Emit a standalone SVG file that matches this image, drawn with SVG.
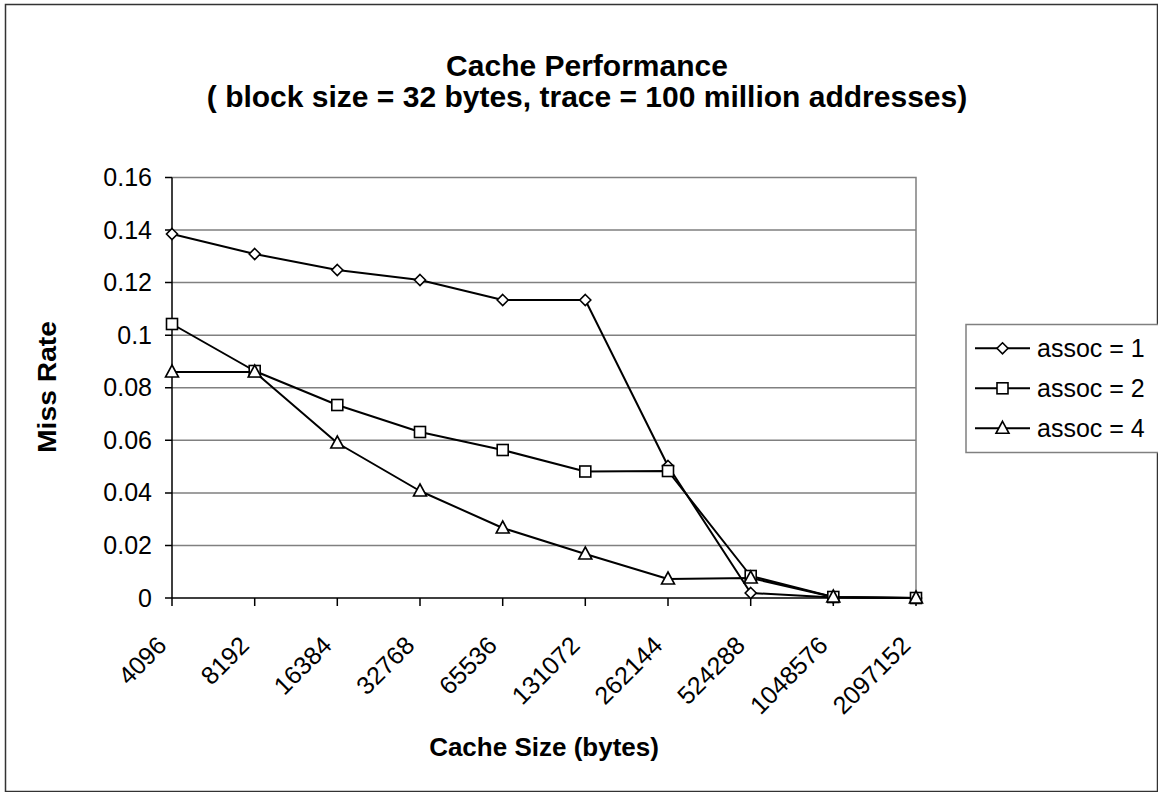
<svg xmlns="http://www.w3.org/2000/svg" width="1158" height="792" viewBox="0 0 1158 792">
<style>
.t{font-family:"Liberation Sans",Arial,sans-serif;fill:#000}
.title{font-size:30px;font-weight:bold;text-anchor:middle}
.axt{font-size:26px;font-weight:bold;text-anchor:middle}
.yl{font-size:25px;text-anchor:end}
.xl{font-size:25px;text-anchor:end}
.lg{font-size:25px}
.grid{stroke:#808080;stroke-width:1.5;fill:none}
.axis{stroke:#000;stroke-width:1.5;fill:none}
.ser{stroke:#000;stroke-width:2;fill:none;stroke-linejoin:round}
.mk{fill:#fff;stroke:#000;stroke-width:1.6}
</style>
<defs>
<polygon id="dia" class="mk" points="0,-5.5 5.5,0 0,5.5 -5.5,0"/>
<rect id="sq" class="mk" x="-5.5" y="-5.5" width="11" height="11"/>
<polygon id="tri" class="mk" points="0,-7 6.5,5 -6.5,5"/>
</defs>
<rect width="1158" height="792" fill="#fff"/>
<rect x="5.5" y="4.5" width="1152" height="787" fill="none" stroke="#333" stroke-width="1.5"/>
<g id="title">
<text class="t title" x="587" y="76">Cache Performance</text>
<text class="t title" x="587" y="107">( block size = 32 bytes, trace = 100 million addresses)</text>
</g>
<g id="plot">
<path class="grid" d="M172,177.5H916V598M172,230.1H916M172,282.6H916M172,335.2H916M172,387.8H916M172,440.3H916M172,492.9H916M172,545.4H916"/>
<path class="axis" d="M172,177.5V598H916M165,177.5H172M165,230.1H172M165,282.6H172M165,335.2H172M165,387.8H172M165,440.3H172M165,492.9H172M165,545.4H172M165,598H172M172,598V606M254.7,598V606M337.3,598V606M420,598V606M502.7,598V606M585.3,598V606M668,598V606M750.7,598V606M833.3,598V606M916,598V606"/>
</g>
<g id="y-labels">
<text class="t yl" x="152" y="186">0.16</text>
<text class="t yl" x="152" y="239">0.14</text>
<text class="t yl" x="152" y="291">0.12</text>
<text class="t yl" x="152" y="344">0.1</text>
<text class="t yl" x="152" y="396">0.08</text>
<text class="t yl" x="152" y="449">0.06</text>
<text class="t yl" x="152" y="501">0.04</text>
<text class="t yl" x="152" y="554">0.02</text>
<text class="t yl" x="152" y="607">0</text>
</g>
<g id="x-labels">
<text class="t xl" transform="translate(168,647) rotate(-45)">4096</text>
<text class="t xl" transform="translate(250.7,647) rotate(-45)">8192</text>
<text class="t xl" transform="translate(333.3,647) rotate(-45)">16384</text>
<text class="t xl" transform="translate(416,647) rotate(-45)">32768</text>
<text class="t xl" transform="translate(498.7,647) rotate(-45)">65536</text>
<text class="t xl" transform="translate(581.3,647) rotate(-45)">131072</text>
<text class="t xl" transform="translate(664,647) rotate(-45)">262144</text>
<text class="t xl" transform="translate(746.7,647) rotate(-45)">524288</text>
<text class="t xl" transform="translate(829.3,647) rotate(-45)">1048576</text>
<text class="t xl" transform="translate(912,647) rotate(-45)">2097152</text>
</g>
<g id="axis-titles">
<text class="t axt" transform="translate(56,387) rotate(-90)" textLength="132" lengthAdjust="spacingAndGlyphs">Miss Rate</text>
<text class="t axt" x="544" y="756">Cache Size (bytes)</text>
</g>
<g id="connectors">
<polyline id="s1" class="ser" points="172,234 254.7,254 337.3,270 420,280 502.7,300 585.3,300 668,466 750.7,593 833.3,597.5 916,598"/>
<polyline id="s2" class="ser" points="172,324 254.7,371 337.3,405 420,432 502.7,450 585.3,471.5 668,471 750.7,576 833.3,597 916,598"/>
<polyline id="s3" class="ser" points="172,372 254.7,372 337.3,443 420,491 502.7,528 585.3,554 668,579 750.7,578 833.3,597 916,598"/>
</g>
<g id="markers-assoc1">
<use href="#dia" x="172" y="234"/><use href="#dia" x="254.7" y="254"/><use href="#dia" x="337.3" y="270"/><use href="#dia" x="420" y="280"/><use href="#dia" x="502.7" y="300"/><use href="#dia" x="585.3" y="300"/><use href="#dia" x="668" y="466"/><use href="#dia" x="750.7" y="593"/><use href="#dia" x="833.3" y="597.5"/><use href="#dia" x="916" y="598"/>
</g>
<g id="markers-assoc2">
<use href="#sq" x="172" y="324"/><use href="#sq" x="254.7" y="371"/><use href="#sq" x="337.3" y="405"/><use href="#sq" x="420" y="432"/><use href="#sq" x="502.7" y="450"/><use href="#sq" x="585.3" y="471.5"/><use href="#sq" x="668" y="471"/><use href="#sq" x="750.7" y="576"/><use href="#sq" x="833.3" y="597"/><use href="#sq" x="916" y="598"/>
</g>
<g id="markers-assoc4">
<use href="#tri" x="172" y="372"/><use href="#tri" x="254.7" y="372"/><use href="#tri" x="337.3" y="443"/><use href="#tri" x="420" y="491"/><use href="#tri" x="502.7" y="528"/><use href="#tri" x="585.3" y="554"/><use href="#tri" x="668" y="579"/><use href="#tri" x="750.7" y="578"/><use href="#tri" x="833.3" y="597"/><use href="#tri" x="916" y="598"/>
</g>
<g id="legend">
<rect x="966" y="324.5" width="200" height="128" fill="#fff" stroke="#808080" stroke-width="1.5"/>
<path class="ser" d="M975,348.3H1030M975,388.3H1030M975,428.3H1030"/>
<use href="#dia" x="1002.5" y="348.3"/>
<use href="#sq" x="1002.5" y="388.3"/>
<use href="#tri" x="1002.5" y="428.3"/>
<text class="t lg" x="1037" y="357">assoc = 1</text>
<text class="t lg" x="1037" y="397">assoc = 2</text>
<text class="t lg" x="1037" y="437">assoc = 4</text>
</g>
</svg>
